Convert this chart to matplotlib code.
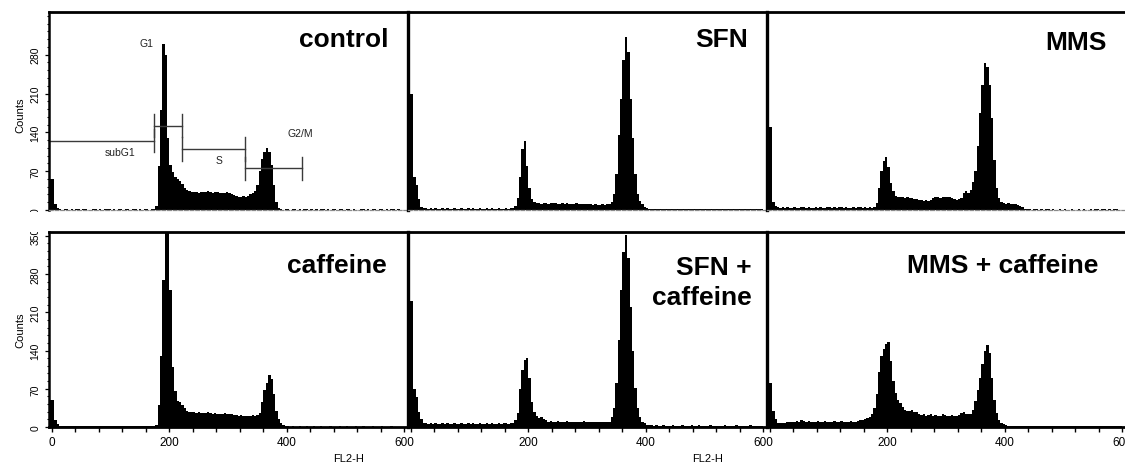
import numpy as np
import matplotlib
matplotlib.use("Agg")
import matplotlib.pyplot as plt
from matplotlib.ticker import MultipleLocator, FixedLocator, FixedFormatter
from matplotlib.transforms import Bbox, TransformedBbox, blended_transform_factory

plt.rcParams['font.family'] = ['Liberation Sans', 'DejaVu Sans']

# ---------------- data (FL2-H histograms, 4-unit channels from 0 to 600) ----------------
BIN_W = 4

control = [
    55, 10, 3, 1, 0, 1, 1, 0, 1, 0,
    1, 1, 0, 1, 1, 0, 0, 1, 1, 0,
    1, 0, 1, 1, 1, 0, 1, 0, 1, 1,
    0, 1, 1, 0, 1, 1, 0, 1, 0, 1,
    1, 0, 1, 1, 8, 80, 180, 300, 280, 130,
    82, 68, 60, 55, 52, 46, 40, 36, 34, 33,
    32, 33, 31, 32, 33, 32, 34, 32, 31, 33,
    32, 31, 30, 31, 32, 30, 29, 27, 25, 24,
    24, 25, 24, 26, 28, 30, 34, 45, 70, 92,
    105, 112, 104, 82, 45, 15, 4, 1, 0, 1,
    1, 0, 1, 1, 0, 1, 0, 1, 1, 0,
    1, 0, 1, 0, 1, 1, 0, 1, 0, 1,
    1, 0, 1, 1, 0, 1, 1, 0, 1, 0,
    0, 1, 1, 0, 1, 0, 1, 1, 0, 1,
    1, 0, 1, 0, 1, 1, 0, 1, 0, 0,
]

sfn = [
    210, 60, 45, 20, 6, 3, 3, 2, 3, 2,
    3, 2, 2, 3, 2, 3, 2, 2, 3, 2,
    2, 3, 2, 2, 3, 2, 3, 2, 2, 3,
    2, 2, 3, 2, 3, 2, 2, 3, 2, 2,
    3, 2, 3, 4, 8, 22, 60, 110, 125, 80,
    40, 20, 15, 12, 12, 11, 12, 12, 11, 12,
    13, 12, 11, 11, 12, 11, 12, 11, 10, 11,
    12, 11, 10, 11, 10, 10, 10, 9, 10, 9,
    9, 10, 9, 10, 11, 14, 28, 65, 135, 200,
    270, 312, 285, 200, 130, 65, 28, 16, 10, 6,
    4, 2, 2, 1, 2, 1, 1, 2, 1, 1,
    1, 2, 1, 1, 1, 2, 1, 1, 1, 1,
    2, 1, 1, 1, 2, 1, 1, 1, 2, 1,
    1, 1, 2, 1, 1, 1, 1, 2, 1, 1,
    1, 2, 1, 1, 1, 1, 2, 1, 1, 1,
]

mms = [
    150, 15, 7, 5, 4, 5, 4, 5, 4, 4,
    5, 4, 4, 5, 5, 4, 5, 4, 4, 5,
    4, 5, 4, 4, 5, 6, 4, 5, 4, 5,
    5, 4, 5, 4, 4, 5, 4, 5, 5, 4,
    5, 4, 5, 4, 5, 12, 40, 70, 88, 96,
    78, 48, 34, 26, 24, 23, 23, 22, 23, 22,
    21, 20, 19, 18, 18, 17, 18, 17, 18, 22,
    23, 24, 22, 24, 23, 24, 23, 22, 20, 18,
    19, 22, 30, 34, 30, 36, 50, 70, 115, 175,
    225, 265, 258, 225, 165, 90, 40, 22, 15, 12,
    11, 12, 10, 11, 10, 9, 8, 6, 2, 1,
    1, 0, 1, 1, 0, 1, 0, 1, 1, 0,
    1, 0, 0, 1, 0, 1, 0, 0, 1, 0,
    0, 1, 0, 1, 0, 0, 1, 0, 1, 1,
    0, 1, 1, 0, 1, 0, 1, 1, 0, 0,
]

caffeine = [
    50, 12, 5, 2, 2, 1, 2, 2, 1, 2,
    2, 1, 2, 2, 2, 1, 2, 2, 1, 2,
    2, 2, 1, 2, 2, 2, 1, 2, 2, 1,
    2, 2, 2, 1, 2, 2, 1, 2, 2, 2,
    1, 2, 2, 2, 3, 40, 130, 270, 380, 380,
    250, 110, 65, 48, 45, 40, 34, 30, 28, 27,
    28, 26, 27, 26, 25, 26, 27, 25, 24, 25,
    24, 23, 24, 25, 23, 24, 23, 22, 22, 21,
    22, 21, 20, 21, 21, 22, 21, 22, 25, 45,
    68, 80, 95, 88, 60, 30, 14, 8, 4, 1,
    1, 0, 1, 0, 0, 1, 0, 0, 1, 0,
    0, 1, 0, 0, 1, 0, 0, 0, 1, 0,
    0, 0, 1, 0, 0, 1, 0, 0, 0, 1,
    0, 0, 1, 0, 0, 0, 1, 0, 0, 0,
    1, 0, 0, 0, 1, 0, 0, 0, 0, 0,
]

sfn_caffeine = [
    230, 70, 55, 28, 14, 8, 7, 6, 7, 6,
    7, 6, 6, 7, 6, 7, 6, 6, 7, 6,
    6, 7, 6, 6, 7, 6, 7, 6, 6, 7,
    6, 6, 7, 6, 7, 6, 6, 7, 6, 7,
    7, 6, 7, 8, 12, 26, 70, 105, 122, 126,
    90, 45, 28, 20, 16, 18, 14, 12, 10, 11,
    10, 9, 11, 10, 9, 10, 11, 10, 9, 10,
    10, 9, 10, 11, 9, 10, 9, 10, 9, 10,
    9, 10, 9, 10, 9, 18, 35, 80, 160, 250,
    320, 352, 310, 220, 140, 72, 35, 18, 10, 7,
    4, 3, 3, 2, 3, 2, 2, 3, 2, 2,
    2, 3, 2, 2, 2, 3, 2, 2, 2, 3,
    2, 2, 3, 2, 2, 2, 2, 3, 2, 2,
    2, 2, 2, 3, 2, 2, 2, 2, 3, 2,
    2, 2, 2, 2, 3, 2, 2, 2, 2, 2,
]

mms_caffeine = [
    80, 30, 15, 8, 7, 7, 8, 9, 10, 9,
    10, 11, 10, 12, 11, 10, 11, 10, 9, 10,
    11, 10, 10, 11, 10, 9, 10, 11, 10, 10,
    11, 10, 9, 10, 11, 10, 10, 11, 12, 13,
    14, 16, 19, 24, 35, 60, 100, 130, 142, 152,
    155, 120, 85, 62, 50, 44, 36, 32, 30, 29,
    31, 28, 27, 24, 22, 23, 21, 22, 24, 21,
    22, 20, 21, 23, 22, 20, 21, 22, 21, 20,
    22, 26, 28, 24, 23, 24, 32, 48, 68, 90,
    115, 140, 150, 135, 90, 50, 25, 12, 8, 5,
    3, 2, 2, 1, 2, 1, 1, 2, 1, 1,
    1, 1, 2, 1, 1, 1, 1, 1, 2, 1,
    1, 1, 1, 2, 1, 1, 1, 1, 1, 1,
    1, 2, 1, 1, 1, 1, 1, 2, 1, 1,
    1, 1, 1, 1, 2, 1, 1, 1, 1, 1,
]

panel_titles = [["control", "SFN", "MMS"],
                ["caffeine", "SFN +\ncaffeine", "MMS + caffeine"]]
panel_data = [[control, sfn, mms], [caffeine, sfn_caffeine, mms_caffeine]]

# cell-cycle gates (control panel), FL2-H ranges and marker heights (counts)
gate_names = ["subG1", "G1", "S", "G2/M"]
gate_start = [-5, 173, 221, 329]
gate_end = [173, 221, 329, 426]
gate_level = [125, 152, 110, 75]
gate_label_x = [116, 161, 284, 423]
gate_label_y = [105, 301, 90, 139]

x_major = [0, 200, 400, 600]
x_labels_first = ["0", "200", "400", "600"]
# the "0" of the 2nd/3rd panel sits under the previous panel's "600"
x_labels_next = ["", "200", "400", "600"]
y_major_top = [0, 70, 140, 210, 280]
y_major_bottom = [0, 70, 140, 210, 280, 350]

XLIM = (-5, 606)
YLIM = (0, 357)

# ---------------- layout ----------------
W, H = 1125, 464
fig = plt.figure(figsize=(W / 100, H / 100), dpi=100)
row_geom = [(13, 198), (233, 195)]
col_left = [49, 408, 767]
PW = 359

title_offsets = [[(-20, -34), (-19, -34), (-19, -37)],
                 [(-21, -40), (-15, -72), (-28, -40)]]

axes = {}
for r in range(2):
    top, h = row_geom[r]
    for c in range(3):
        left = col_left[c]
        ax = fig.add_axes([left / W, 1 - (top + h) / H, PW / W, h / H])
        axes[(r, c)] = ax
        vals = np.asarray(panel_data[r][c], dtype=float)
        edges = np.arange(len(vals) + 1, dtype=float) * BIN_W
        edges[0] = XLIM[0]
        ax.stairs(vals, edges, fill=True, color="black", linewidth=0)
        ax.set_xlim(*XLIM)
        ax.set_ylim(*YLIM)

        # spines
        ax.spines["top"].set_linewidth(2.0)
        ax.spines["left"].set_linewidth(1.8 if c == 0 else 2.4)
        ax.spines["right"].set_visible(r == 1 and c == 2)
        ax.spines["right"].set_linewidth(2.0)
        if r == 0:
            ax.spines["bottom"].set_color("#8a8a8a")
            ax.spines["bottom"].set_linewidth(0.9)
            ax.spines["bottom"].set_linestyle((0, (3, 1.5)))
            ax.set_xticks([])
        else:
            ax.spines["bottom"].set_linewidth(2.0)
            ax.xaxis.set_major_locator(FixedLocator(x_major))
            ax.xaxis.set_major_formatter(FixedFormatter(x_labels_first if c == 0 else x_labels_next))
            ax.xaxis.set_minor_locator(MultipleLocator(40))
            ax.tick_params(axis="x", which="both", direction="out", length=3.6,
                           width=1.0, labelsize=8.5, pad=3)

        if c == 0:
            ax.yaxis.set_major_locator(FixedLocator(y_major_top if r == 0 else y_major_bottom))
            ax.yaxis.set_minor_locator(MultipleLocator(14))
            ax.tick_params(axis="y", which="major", direction="out", length=3.0,
                           width=0.9, labelsize=7.5, pad=3, labelrotation=90)
            ax.tick_params(axis="y", which="minor", direction="out", length=1.8, width=0.8)
            for lab in ax.get_yticklabels():
                lab.set_va("center")
        else:
            ax.set_yticks([])
            ax.tick_params(axis="y", which="both", left=False)

        # panel title
        dx, dy = title_offsets[r][c]
        ax.annotate(panel_titles[r][c], xy=(1, 1), xycoords="axes fraction",
                    xytext=(dx, dy), textcoords="offset pixels",
                    ha="right", va="baseline", fontsize=19, fontweight="bold",
                    linespacing=1.3, multialignment="right")

# gates on the control panel
axc = axes[(0, 0)]
TICK_HALF = 21
for name, s, e, lv, lx, ly in zip(gate_names, gate_start, gate_end, gate_level,
                                   gate_label_x, gate_label_y):
    axc.plot([s, e], [lv, lv], color="#3a3a3a", lw=1.0, clip_on=False)
    if s > XLIM[0]:
        axc.plot([s, s], [lv - TICK_HALF, lv + TICK_HALF], color="#3a3a3a", lw=1.0)
    axc.plot([e, e], [lv - TICK_HALF, lv + TICK_HALF], color="#3a3a3a", lw=1.0)
    axc.text(lx, ly, name, fontsize=7.5, ha="center", va="center", color="#222222")

# axis labels
for r, yc in [(0, 115), (1, 330)]:
    fig.text(20 / W, 1 - yc / H, "Counts", rotation=90, ha="center", va="center",
             fontsize=8)
for c in (0, 1):
    ax = axes[(1, c)]
    tr = blended_transform_factory(ax.transData, fig.transFigure)
    ax.text(505, 1 - 459 / H, "FL2-H", transform=tr, ha="center", va="center",
            fontsize=8)

# clip the y tick labels to the panel's vertical extent (as in the scanned figure)
fig.canvas.draw()
for r in range(2):
    ax = axes[(r, 0)]
    clip = TransformedBbox(Bbox([[-0.3, -0.012 if r == 0 else -0.2], [0.0, 1.0]]), ax.transAxes)
    for lab in ax.get_yticklabels():
        lab.set_clip_box(clip)
        lab.set_clip_on(True)

fig.savefig("out.png", dpi=100)
